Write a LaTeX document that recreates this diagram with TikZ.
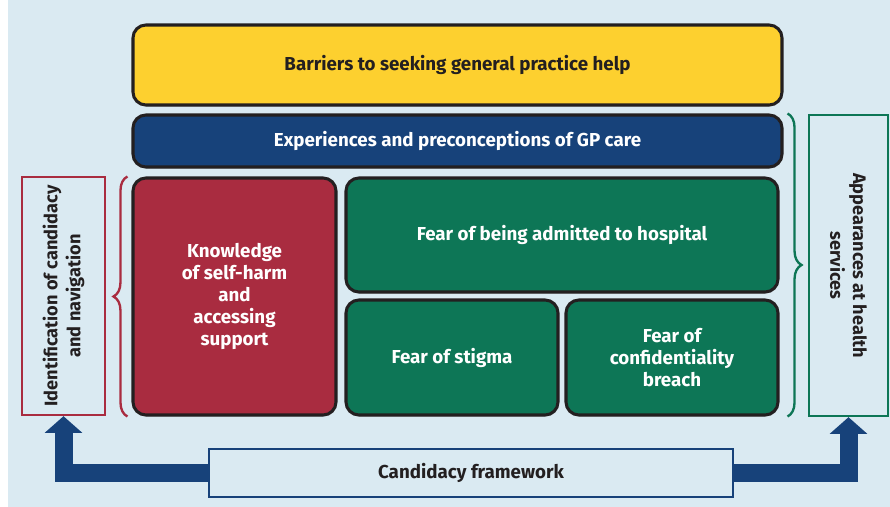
\documentclass[tikz,border=0pt]{standalone}
\usepackage{fontspec}
\setmainfont{Fira Sans}
\usepackage{tikz}
\usetikzlibrary{arrows.meta,shapes,positioning,shadows,decorations.pathreplacing}

\definecolor{paleblue}{HTML}{DAEAF2}
\definecolor{ink}{HTML}{231F20}
\definecolor{gpyellow}{HTML}{FDD02F}
\definecolor{gpblue}{HTML}{17427A}
\definecolor{gpred}{HTML}{A92C40}
\definecolor{gpgreen}{HTML}{0D7656}

\begin{document}
\begin{tikzpicture}[
		x=0.03cm, y=-0.03cm,
		basic/.style   = {draw=ink, line width=2.6pt, rounded corners=11pt, align=center,
			font=\bfseries\fontsize{16}{18.8}\selectfont, inner sep=0pt,
			drop shadow={shadow xshift=0.4pt, shadow yshift=-1.4pt, opacity=0.35}},
		barrier/.style = {basic, fill=gpyellow, text=ink},
		theme/.style   = {basic, fill=gpblue, text=white},
		knowbox/.style = {basic, fill=gpred, text=white},
		fearbox/.style = {basic, fill=gpgreen, text=white},
		sidebox/.style = {draw, line width=2pt, fill=paleblue, text=ink, align=center,
			font=\bfseries\fontsize{15.5}{19.5}\selectfont, inner sep=0pt},
		framebox/.style= {draw=gpblue, line width=1.8pt, fill=paleblue, text=ink,
			font=\bfseries\fontsize{16}{18}\selectfont, inner sep=0pt},
		bracket/.style = {decorate, decoration={brace, amplitude=0.42cm}, line width=2pt},
		bigarrow/.style= {draw=gpblue, line width=0.54cm,
			-{Triangle[width=1.1cm, length=0.5cm]}}]
		
		% background panel
		\useasboundingbox (0,0) rectangle (890,507);
		\fill[paleblue] (8,0) rectangle (890,507);
		
		% the stacked barriers, top level
		\node[barrier, minimum width=19.47cm, minimum height=2.4cm] (barrier) at (457.5,65) {Barriers to seeking general practice help};
		\node[theme, minimum width=19.47cm, minimum height=1.56cm] (gpcare) at (457.5,141) {Experiences and preconceptions of GP care};
		
		% the lower row of themes
		\node[knowbox, minimum width=6.09cm, minimum height=7.11cm] (know) at (234.5,296.5) {Knowledge\\of self-harm\\and\\accessing\\support};
		\node[fearbox, minimum width=12.96cm, minimum height=3.42cm] (hospital) at (562,235) {Fear of being admitted to hospital};
		\node[fearbox, minimum width=6.36cm, minimum height=3.45cm] (stigma) at (452,357.5) {Fear of stigma};
		\node[fearbox, minimum width=6.36cm, minimum height=3.45cm] (breach) at (672,357.5) {Fear of\\confidentiality\\breach};
		
		% side boxes, turned on their side (so west/east are the bottoms)
		\node[sidebox, draw=gpred, rotate=90, minimum width=7.14cm, minimum height=2.49cm] (ident) at (63.5,296) {Identification of candidacy\\and navigation};
		\node[sidebox, draw=gpgreen, rotate=-90, minimum width=9.03cm, minimum height=2.37cm] (appear) at (848.5,265.5) {Appearances at health\\services};
		
		% braces linking the side boxes to the themes
		\draw[bracket, gpred] ([xshift=-0.12cm]know.south west) -- ([xshift=-0.12cm]know.north west);
		\draw[bracket, gpgreen] ([xshift=0.12cm]gpcare.north east) -- ([xshift=0.12cm]gpcare.north east |- breach.south);
		
		% candidacy framework and its two arrows
		\node[framebox, minimum width=15.72cm, minimum height=1.44cm] (frame) at (471,473) {Candidacy framework};
		\draw[bigarrow] (frame.west) -| (ident.west);
		\draw[bigarrow] (frame.east) -| (appear.east);
		
	\end{tikzpicture}
\end{document}
